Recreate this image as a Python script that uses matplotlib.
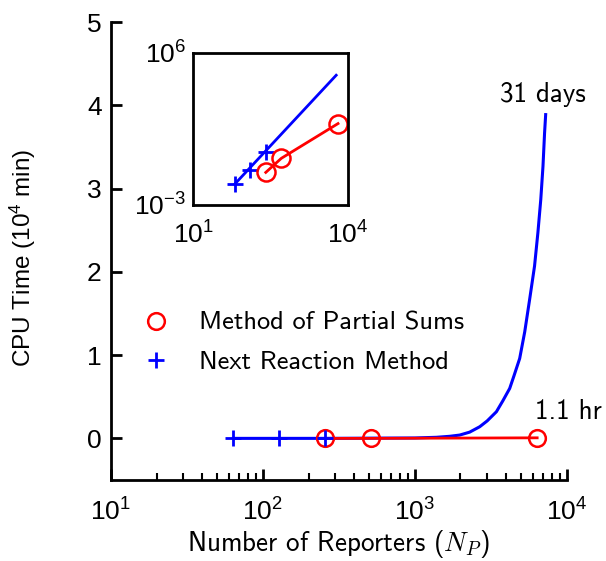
import numpy as np
import matplotlib
matplotlib.use("Agg")
from matplotlib import pyplot as plt
from matplotlib.ticker import LogLocator, NullFormatter

plt.rcParams['font.family'] = ['Liberation Sans', 'DejaVu Sans']
plt.rcParams['mathtext.fontset'] = 'cm'

# number of reporters and CPU time (minutes)
nrm_n = [64, 128, 256]
nrm_min = [0.017, 0.126, 1.29]
mps_n = [256, 512, 6400]
mps_min = [0.085, 0.58, 66]

# fitted NRM curve (units of 10^4 min)
fit_n = [64, 128, 256, 1000, 1390, 1700, 1980, 2300, 2680, 3000, 3450,
         3800, 4220, 4500, 4910, 5300, 5710, 6150, 6470, 6760, 6990,
         7160, 7280]
fit_y = [0, 0, 0.0001, 0.005, 0.013, 0.025, 0.04, 0.075, 0.14, 0.21, 0.32,
         0.45, 0.60, 0.75, 0.96, 1.28, 1.67, 2.07, 2.47, 2.87, 3.27,
         3.67, 3.89]

# fitted NRM line in the inset (minutes)
inset_fit_n = [64, 5900]
inset_fit_min = [0.017, 4.8e4]

blue = '#0000ff'
red = '#ff0000'
tex_font = 'cmss10'


def main_panel(fig):
    ax = fig.add_axes([0.183, 0.1444, 0.752, 0.816])
    mps_y = [v / 1e4 for v in mps_min]
    ax.plot(fit_n, fit_y, color=blue, lw=2.2, zorder=2)
    ax.plot(nrm_n, [0, 0, 0], ls='none', marker='+', color=blue,
            ms=12, mew=2, zorder=4, label='Next Reaction Method')
    ax.plot(mps_n, mps_y, color=red, lw=2, zorder=3)
    ax.plot(mps_n, mps_y, ls='none', marker='o', mfc='none', mec=red,
            ms=12, mew=1.8, zorder=3, label='Method of Partial Sums')

    ax.set_xscale('log')
    ax.set_xlim(10, 1e4)
    ax.set_ylim(-0.5, 5)
    ax.set_yticks([0, 1, 2, 3, 4, 5])
    ax.xaxis.set_minor_locator(LogLocator(base=10, subs=np.arange(2, 10)))
    ax.xaxis.set_minor_formatter(NullFormatter())

    for side in ['top', 'right']:
        ax.spines[side].set_visible(False)
    for side in ['left', 'bottom']:
        ax.spines[side].set_linewidth(2)
    ax.tick_params(which='major', direction='in', length=8, width=2,
                   labelsize=19, pad=6.5)
    ax.tick_params(which='minor', direction='in', length=5, width=1.5)
    ax.tick_params(axis='x', which='major', pad=13)

    ax.set_xlabel('Number of Reporters ($N_P$)', fontname=tex_font,
                  fontsize=19.5, labelpad=2)
    ax.set_ylabel('CPU Time ($\\mathdefault{10^4}$ min)', fontsize=17.5)
    ax.yaxis.set_label_coords(-0.16, 0.485)

    ax.text(6950, 4.13, '31 days', fontname=tex_font,
            fontsize=19.5, ha='center', va='center')
    ax.text(6150, 0.32, '1.1 hr', fontname=tex_font, fontsize=19.5,
            ha='left', va='center')

    handles, labels = ax.get_legend_handles_labels()
    ax.legend(handles[::-1], labels[::-1], loc='center left',
              bbox_to_anchor=(0.042, 0.3), frameon=False, borderpad=0,
              handlelength=1.0, handletextpad=1.1, labelspacing=0.6,
              prop={'family': tex_font, 'size': 19})
    return ax


def inset_panel(fig):
    ax = fig.add_axes([0.3185, 0.6346, 0.2558, 0.271])
    ax.plot(inset_fit_n, inset_fit_min, color=blue, lw=2)
    ax.plot(nrm_n, nrm_min, ls='none', marker='+', color=blue, ms=11, mew=2)
    ax.plot(mps_n, mps_min, color=red, lw=2, marker='o', mfc='none',
            mec=red, ms=13, mew=1.8)
    ax.set_xscale('log')
    ax.set_yscale('log')
    ax.set_xlim(10, 1e4)
    ax.set_ylim(1e-3, 1e6)
    ax.set_xticks([10, 1e4])
    ax.set_yticks([1e-3, 1e6])
    ax.minorticks_off()
    for s in ax.spines.values():
        s.set_linewidth(2)
    ax.tick_params(length=0, labelsize=19, pad=5)
    ax.tick_params(axis='x', pad=12)
    return ax


fig = plt.figure(figsize=(6.06, 5.61), dpi=100)
main_panel(fig)
inset_panel(fig)
fig.savefig('out.png', dpi=100)
